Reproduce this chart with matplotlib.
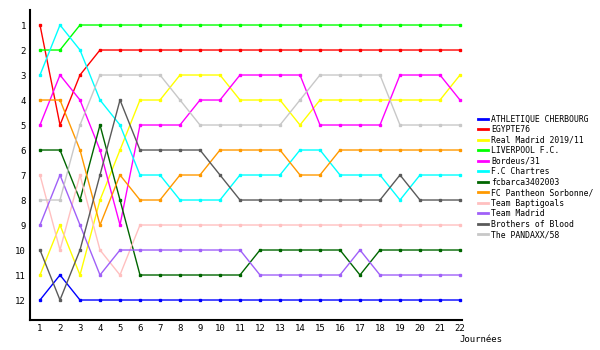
import numpy as np
import matplotlib
matplotlib.use("Agg")
import matplotlib.pyplot as plt
from matplotlib.lines import Line2D

# Classement par journée (1 = premier)
journees = list(range(1, 23))

teams = ["ATHLETIQUE CHERBOURG", "EGYPTE76", "Real Madrid 2019/11", "LIVERPOOL F.C.",
         "Bordeus/31", "F.C Chartres", "fcbarca3402003", "FC Pantheon Sorbonne/",
         "Team Baptigoals", "Team Madrid", "Brothers of Blood", "The PANDAXX/58"]

cherbourg = [12, 11, 12, 12, 12, 12, 12, 12, 12, 12, 12, 12, 12, 12, 12, 12, 12, 12, 12, 12, 12, 12]
egypte = [1, 5, 3, 2, 2, 2, 2, 2, 2, 2, 2, 2, 2, 2, 2, 2, 2, 2, 2, 2, 2, 2]
real_madrid = [11, 9, 11, 8, 6, 4, 4, 3, 3, 3, 4, 4, 4, 5, 4, 4, 4, 4, 4, 4, 4, 3]
liverpool = [2, 2, 1, 1, 1, 1, 1, 1, 1, 1, 1, 1, 1, 1, 1, 1, 1, 1, 1, 1, 1, 1]
bordeus = [5, 3, 4, 6, 9, 5, 5, 5, 4, 4, 3, 3, 3, 3, 5, 5, 5, 5, 3, 3, 3, 4]
chartres = [3, 1, 2, 4, 5, 7, 7, 8, 8, 8, 7, 7, 7, 6, 6, 7, 7, 7, 8, 7, 7, 7]
fcbarca = [6, 6, 8, 5, 8, 11, 11, 11, 11, 11, 11, 10, 10, 10, 10, 10, 11, 10, 10, 10, 10, 10]
pantheon = [4, 4, 6, 9, 7, 8, 8, 7, 7, 6, 6, 6, 6, 7, 7, 6, 6, 6, 6, 6, 6, 6]
baptigoals = [7, 10, 7, 10, 11, 9, 9, 9, 9, 9, 9, 9, 9, 9, 9, 9, 9, 9, 9, 9, 9, 9]
team_madrid = [9, 7, 9, 11, 10, 10, 10, 10, 10, 10, 10, 11, 11, 11, 11, 11, 10, 11, 11, 11, 11, 11]
brothers = [10, 12, 10, 7, 4, 6, 6, 6, 6, 7, 8, 8, 8, 8, 8, 8, 8, 8, 7, 8, 8, 8]
pandaxx = [8, 8, 5, 3, 3, 3, 3, 4, 5, 5, 5, 5, 5, 4, 3, 3, 3, 3, 5, 5, 5, 5]

series = [cherbourg, egypte, real_madrid, liverpool, bordeus, chartres,
          fcbarca, pantheon, baptigoals, team_madrid, brothers, pandaxx]
colors = ["#0000ff", "#ff0000", "#ffff00", "#00ff00", "#ff00ff", "#00ffff",
          "#006600", "#ff9900", "#ffc0c0", "#a060f8", "#5a5a5a", "#c8c8c8"]

plt.rcParams['font.family'] = ['DejaVu Sans Mono']

fig = plt.figure(figsize=(6, 3.5), dpi=100)
ax = fig.add_axes([0.05, 0.0857, 0.72, 0.8857])

for name, vals, c in zip(teams, series, colors):
    ax.plot(journees, vals, color=c, lw=1.0, marker='s', ms=2.0, label=name)

ax.set_xlim(0.5, 22.1)
ax.set_ylim(12.8, 0.4)
ax.set_xticks(journees)
ax.set_yticks(range(1, 13))
ax.tick_params(length=0, labelsize=6.5, pad=3)
for s in ['top', 'right']:
    ax.spines[s].set_visible(False)
for s in ['left', 'bottom']:
    ax.spines[s].set_linewidth(1.5)
    ax.spines[s].set_color('black')

fig.text(0.765, 0.03, "Journées", fontsize=6.5, ha='left', va='center')

# legend: plain colour bars, no markers
handles = [Line2D([], [], color=c, lw=2.0) for c in colors]
ax.legend(handles, teams, loc='upper left', bbox_to_anchor=(0.797, 0.672),
          bbox_transform=fig.transFigure, frameon=False, fontsize=5.9,
          handlelength=1.2, handletextpad=0.4, labelspacing=0.18,
          borderpad=0, borderaxespad=0)

fig.savefig("out.png", dpi=100)
